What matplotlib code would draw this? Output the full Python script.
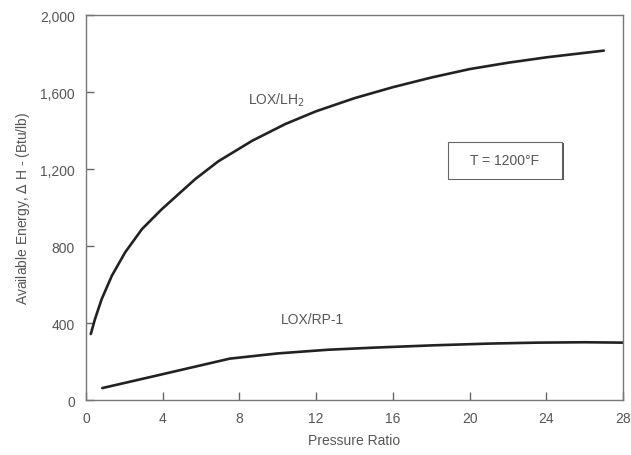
""" Available energy vs pressure ratio for LOX/LH2 and LOX/RP-1 """
import matplotlib.pyplot as plt
from matplotlib.patches import Rectangle

plt.rcParams['font.family'] = ['Liberation Sans', 'DejaVu Sans']

# LOX/LH2 curve
lh2_ratio = [0.25, 0.47, 0.82, 1.35, 2.04, 2.92, 3.96, 4.83, 5.7, 6.9, 8.67, 10.4,
             12.0, 14.0, 16.0, 18.0, 20.0, 22.0, 24.0, 27.0]
lh2_energy = [343, 421, 525, 646, 767, 888, 992, 1070, 1148, 1240, 1347, 1434,
              1500, 1568, 1625, 1675, 1719, 1752, 1780, 1815]

# LOX/RP-1 curve
rp1_ratio = [0.85, 3.6, 7.5, 10.0, 12.6, 15.0, 18.1, 21.0, 23.5, 26.0, 28.0]
rp1_energy = [62, 125, 215, 242, 261, 272, 284, 293, 298, 300, 298]

xticks = [0, 4, 8, 12, 16, 20, 24, 28]
yticks = [0, 400, 800, 1200, 1600, 2000]
ytick_labels = ['0', '400', '800', '1,200', '1,600', '2,000']

grey = '#555555'
ink = '#222222'

fig = plt.figure(figsize=(6.31, 4.56), dpi=100)
ax = fig.add_axes([0.1363, 0.1206, 0.851, 0.8443])

ax.plot(lh2_ratio, lh2_energy, color=ink, lw=1.9, solid_capstyle='round')
ax.plot(rp1_ratio, rp1_energy, color=ink, lw=1.9, solid_capstyle='round')

ax.set_xlim(0, 28)
ax.set_ylim(0, 2000)
ax.set_xticks(xticks)
ax.set_yticks(yticks)
ax.set_yticklabels(ytick_labels)
ax.tick_params(direction='in', length=6, width=1, color='#666666',
               labelcolor=grey, labelsize=10, pad=8)
for s in ax.spines.values():
    s.set_color('#777777')
    s.set_linewidth(1)

ax.set_xlabel('Pressure Ratio', color=grey, fontsize=10, labelpad=6)
ax.set_ylabel('Available Energy, $\\Delta$ H - (Btu/lb)', color=grey, fontsize=10, labelpad=6)

ax.text(9.9, 1564, 'LOX/LH$_2$', color=grey, fontsize=10, ha='center', va='center')
ax.text(11.8, 420, 'LOX/RP-1', color=grey, fontsize=10, ha='center', va='center')

# temperature box with a dark shadow on right and bottom
ax.add_patch(Rectangle((18.92, 1143), 6.03, 192, facecolor='#555555', edgecolor='none', zorder=3))
ax.add_patch(Rectangle((18.85, 1150), 5.95, 190, facecolor='white', edgecolor='#666666', lw=0.8, zorder=4))
ax.text(21.85, 1248, 'T = 1200°F', color=grey, fontsize=10, ha='center', va='center', zorder=5)

fig.savefig('out.png', dpi=100)
